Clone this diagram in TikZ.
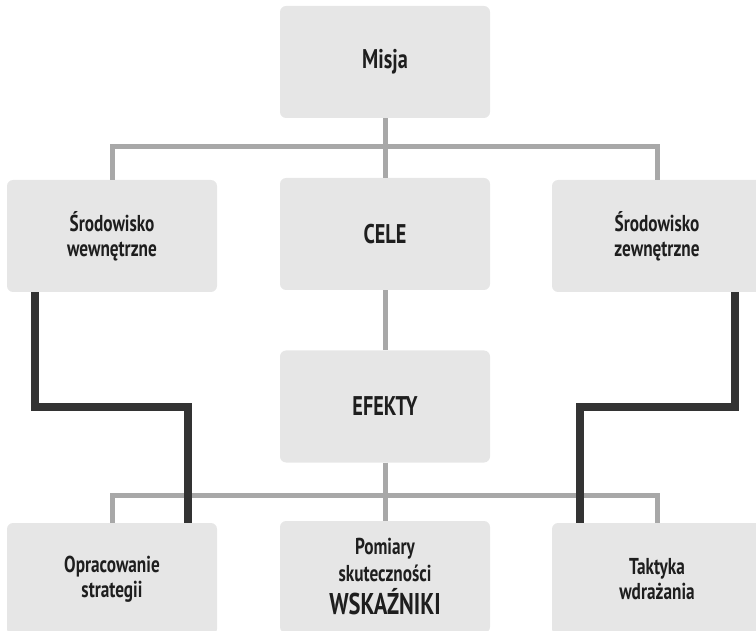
\documentclass[tikz,border=0pt]{standalone}
\usepackage{fontspec}
\setmainfont{PT Sans}[FakeStretch=0.75]
\definecolor{boxgray}{HTML}{E6E6E6}
\definecolor{linegray}{HTML}{A8A8A8}
\definecolor{darkline}{HTML}{333333}
\definecolor{txt}{HTML}{1E1E1E}
\tikzset{
  box/.style={rectangle, rounded corners=6pt, fill=boxgray, minimum width=210pt,
    minimum height=112pt, inner sep=0pt, align=center, text=txt,
    font=\bfseries\fontsize{23}{25}\selectfont},
  bigtxt/.style={font=\bfseries\fontsize{27}{30}\selectfont},
  thin/.style={draw=linegray, line width=5pt},
  thick/.style={draw=darkline, line width=8.5pt},
}
\begin{document}
\begin{tikzpicture}[x=1pt,y=-1pt]
\useasboundingbox (0,0) rectangle (756,631);
\clip (0,0) rectangle (756,631);
\node[box, font=\bfseries\fontsize{27}{30}\selectfont] (misja) at (385,62) {Misja};
\node[box] (wew) at (112,236) {Środowisko\\wewnętrzne};
\node[box, bigtxt] (cele) at (385,234) {CELE};
\node[box] (zew) at (657,236) {Środowisko\\zewnętrzne};
\node[box, bigtxt] (efekty) at (385,406.5) {EFEKTY};
\node[box] (strat) at (112,579) {Opracowanie\\strategii};
\node[box, font=\bfseries\fontsize{23}{27}\selectfont] (pom) at (385,577) {Pomiary\\skuteczności\\[6pt]{\fontsize{30}{32}\selectfont WSKAŹNIKI}};
\node[box] (takt) at (657,579) {Taktyka\\wdrażania};
% top tree
\coordinate (t1) at (385,147);
\draw[thin] (misja.south) -- (cele.north);
\draw[thin] (wew.north) |- (t1) -| (zew.north);
% middle
\draw[thin] (cele.south) -- (efekty.north);
\coordinate (t2) at (385,495);
\draw[thin] (efekty.south) -- (pom.north);
\draw[thin] (strat.north) |- (t2) -| (takt.north);
% dark connectors
\coordinate (l1) at (35,407);
\coordinate (l2) at (188,407);
\coordinate (r1) at (735,407);
\coordinate (r2) at (580,407);
\draw[thick] (wew.south -| l1) -- (l1) -- (l2) -- (l2 |- strat.north);
\draw[thick] (zew.south -| r1) -- (r1) -- (r2) -- (r2 |- takt.north);
\end{tikzpicture}
\end{document}
